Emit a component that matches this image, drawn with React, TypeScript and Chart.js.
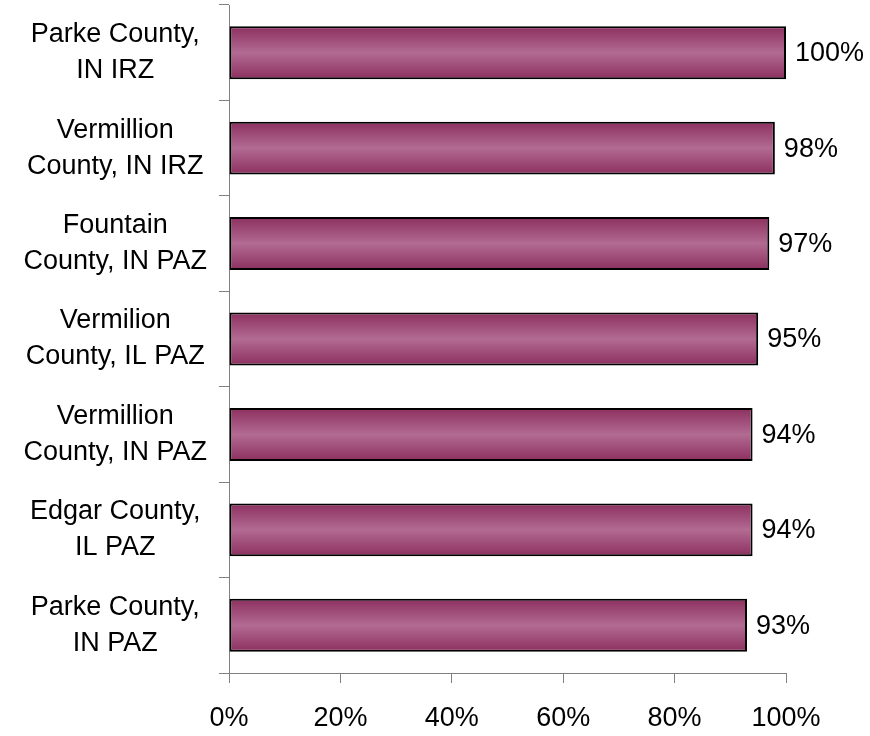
import React, { useEffect, useRef } from "react";
import { Chart, registerables } from "chart.js";

Chart.register(...registerables);

const categories: string[][] = [
  ["Parke County,", "IN IRZ"],
  ["Vermillion", "County, IN IRZ"],
  ["Fountain", "County, IN PAZ"],
  ["Vermilion", "County, IL PAZ"],
  ["Vermillion", "County, IN PAZ"],
  ["Edgar County,", "IL PAZ"],
  ["Parke County,", "IN PAZ"],
];
const values: number[] = [100, 98, 97, 95, 94, 94, 93];
const xTicks: number[] = [0, 20, 40, 60, 80, 100];

const FONT = "'Liberation Sans', Arial, sans-serif";
const EDGE = "#8c2f5f";
const MID = "#b26b92";

const gradientPlugin = {
  id: "barGradient",
  beforeDatasetsDraw(chart: any) {
    const ctx = chart.ctx;
    const meta = chart.getDatasetMeta(0);
    meta.data.forEach((el: any) => {
      const top = el.y - el.height / 2;
      const bottom = el.y + el.height / 2;
      const g = ctx.createLinearGradient(0, top, 0, bottom);
      g.addColorStop(0, EDGE);
      g.addColorStop(0.5, MID);
      g.addColorStop(1, EDGE);
      el.options = Object.assign({}, el.options, { backgroundColor: g });
    });
  },
};

const labelPlugin = {
  id: "valueLabels",
  afterDatasetsDraw(chart: any) {
    const ctx = chart.ctx;
    const meta = chart.getDatasetMeta(0);
    ctx.save();
    ctx.font = `27px ${FONT}`;
    ctx.fillStyle = "#000";
    ctx.textAlign = "left";
    ctx.textBaseline = "middle";
    meta.data.forEach((el: any, i: number) => {
      ctx.fillText(`${values[i]}%`, el.x + 9, el.y + 1);
    });
    ctx.restore();
  },
};

export default function App() {
  const ref = useRef<HTMLCanvasElement | null>(null);
  useEffect(() => {
    if (!ref.current) return;
    const chart = new Chart(ref.current, {
      type: "bar",
      data: {
        labels: categories,
        datasets: [
          {
            data: values,
            backgroundColor: MID,
            borderColor: "#000",
            borderWidth: 2,
            borderSkipped: false,
            barPercentage: 0.555,
            categoryPercentage: 1,
          },
        ],
      },
      options: {
        indexAxis: "y",
        responsive: false,
        animation: false,
        layout: { padding: { top: 5, right: 84, left: 0, bottom: 0 } },
        plugins: {
          legend: { display: false },
          tooltip: { enabled: false },
        },
        scales: {
          x: {
            min: 0,
            max: 100,
            afterFit: (s: any) => {
              s.height = 63;
              s.paddingLeft = 0;
              s.paddingRight = 0;
            },
            afterBuildTicks: (s: any) => {
              s.ticks = xTicks.map((v) => ({ value: v }));
            },
            ticks: {
              callback: (v: any) => `${v}%`,
              color: "#000",
              font: { family: FONT, size: 27 },
              padding: 19,
              maxRotation: 0,
            },
            grid: {
              drawOnChartArea: false,
              drawTicks: true,
              tickLength: 10,
              color: "#808080",
              lineWidth: 1,
            },
            border: { display: true, color: "#808080", width: 1 },
          },
          y: {
            afterFit: (s: any) => {
              s.width = 229;
              s.paddingTop = 0;
              s.paddingBottom = 0;
            },
            ticks: {
              color: "#000",
              font: { family: FONT, size: 27, lineHeight: 1.33 },
              crossAlign: "center",
              padding: 12,
            },
            grid: {
              offset: true,
              drawOnChartArea: false,
              drawTicks: true,
              tickLength: 10,
              color: "#808080",
              lineWidth: 1,
            },
            border: { display: true, color: "#808080", width: 1 },
          },
        },
      },
      plugins: [gradientPlugin, labelPlugin],
    });
    return () => chart.destroy();
  }, []);
  return (
    <div style={{ position: "fixed", left: 0, top: 0, width: 870, height: 736, background: "#fff" }}>
      <canvas ref={ref} width={870} height={736} />
    </div>
  );
}
